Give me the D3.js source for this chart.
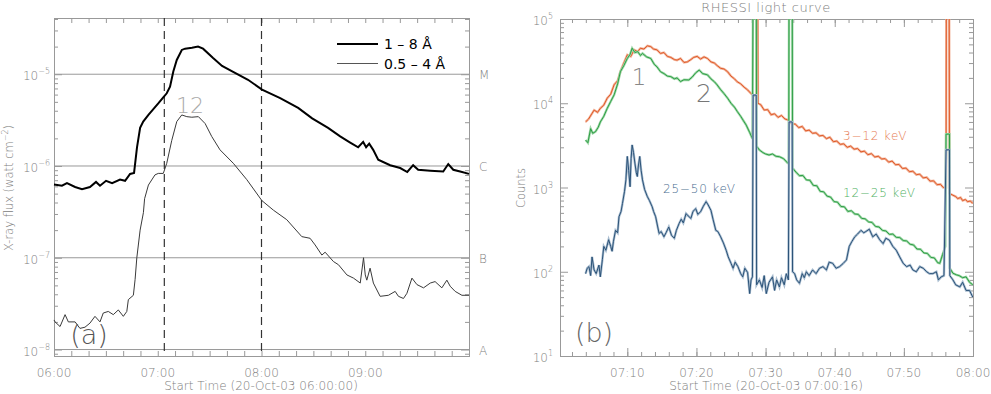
<!DOCTYPE html>
<html>
<head>
<meta charset="utf-8">
<script src="https://cdn.jsdelivr.net/npm/d3@7"></script>
<style>
  body { margin: 0; background: #fff; }
  text { font-family: "DejaVu Sans", sans-serif; }
  .thin { font-weight: 200; }
</style>
</head>
<body>
<div id="chart"></div>
<script>
// ---- GOES data (minutes after 06:00, flux in W m^-2) ----
var goesLongTime = [0, 4.6, 7.5, 12.2, 16.2, 20.8, 24.3, 26.6, 30.1, 33.6, 38.2, 41.1, 44.0, 46.3, 48.0, 49.8,
    51.6, 54.6, 60.3, 63.2, 65.2, 67.1, 69.0, 71.0, 73.9, 75.8, 79.8, 83.3, 86.2, 92.0, 97.2, 103.6, 112.2,
    120.3, 130.8, 141.2, 149.3, 158.5, 165.5, 171.3, 175.9, 178.8, 180.5, 182.3, 184.6, 187.5, 194.4, 200.2,
    204.3, 207.7, 210.6, 217.6, 225.1, 228.0, 230.9, 234.9, 240];
var goesLongFlux = [6.3e-7, 6.1e-7, 6.5e-7, 5.9e-7, 5.6e-7, 5.9e-7, 6.7e-7, 6.1e-7, 6.9e-7, 6.5e-7, 7.1e-7, 6.9e-7,
    8.2e-7, 8.4e-7, 1.6e-6, 2.6e-6, 3.05e-6, 3.6e-6, 4.8e-6, 5.6e-6, 6.2e-6, 7.3e-6, 1.07e-5, 1.43e-5, 1.84e-5,
    1.9e-5, 1.94e-5, 2.0e-5, 1.9e-5, 1.5e-5, 1.23e-5, 1.06e-5, 8.7e-6, 6.8e-6, 5.5e-6, 4.3e-6, 3.3e-6, 2.6e-6,
    2.1e-6, 1.8e-6, 1.6e-6, 1.83e-6, 1.6e-6, 1.75e-6, 1.5e-6, 1.17e-6, 1.02e-6, 9.5e-7, 8.6e-7, 1.02e-6, 9.1e-7,
    8.9e-7, 8.7e-7, 1.05e-6, 9.1e-7, 8.7e-7, 8.2e-7];

var goesShortTime = [0, 0.6, 3.5, 6.4, 8.3, 12.2, 15.0, 17.9, 20.8, 23.7, 26.6, 28.5, 31.4, 34.3, 37.2, 40.1, 42.1,
    43.0, 45.9, 46.9, 47.9, 49.8, 51.7, 52.4, 54.6, 58.4, 60.3, 63.2, 65.2, 68.1, 71.0, 73.9, 76.8, 79.7, 83.5,
    87.4, 91.2, 96.0, 103.7, 111.5, 120.2, 126.9, 134.6, 143.3, 148.1, 151.0, 154.9, 156.8, 161.6, 164.5, 169.4,
    173.2, 177.1, 179.0, 180.0, 180.9, 182.8, 184.7, 188.6, 193.4, 197.3, 199.2, 202.1, 204.1, 207.0, 209.9,
    213.7, 217.6, 220.4, 224.3, 227.2, 229.1, 232.0, 235.9, 240];
var goesShortFlux = [2.1e-8, 2.0e-8, 1.78e-8, 2.4e-8, 2.0e-8, 2.0e-8, 1.7e-8, 1.75e-8, 1.94e-8, 2.3e-8, 2.0e-8,
    2.5e-8, 2.6e-8, 2.4e-8, 2.7e-8, 2.3e-8, 2.6e-8, 3.5e-8, 3.9e-8, 5.8e-8, 1.0e-7, 2.0e-7, 3.1e-7, 4.4e-7,
    6.2e-7, 8.0e-7, 8.3e-7, 8.3e-7, 1.07e-6, 1.9e-6, 3.05e-6, 3.6e-6, 3.45e-6, 3.4e-6, 3.45e-6, 2.9e-6, 2.1e-6,
    1.5e-6, 1.07e-6, 7.1e-7, 4.2e-7, 3.3e-7, 2.6e-7, 1.7e-7, 1.63e-7, 1.38e-7, 1.07e-7, 1.15e-7, 9.1e-8, 8.4e-8,
    6.5e-8, 6.0e-8, 5.3e-8, 1.0e-7, 6.5e-8, 5.7e-8, 7.7e-8, 5.3e-8, 3.8e-8, 3.9e-8, 4.3e-8, 3.8e-8, 3.6e-8,
    4.1e-8, 6.0e-8, 5.1e-8, 4.7e-8, 5.3e-8, 5.5e-8, 4.7e-8, 5.7e-8, 4.9e-8, 4.3e-8, 3.9e-8, 3.9e-8];

var markTimes = [63.8, 120];               // dashed lines, minutes after 06:00
var goesClass = ["M", "C", "B", "A"];
var goesClassFlux = [1e-5, 1e-6, 1e-7, 1e-8];
var goesHourTicks = ["06:00", "07:00", "08:00", "09:00"];

// ---- RHESSI data (minutes after 07:00, counts) ----
var lowTime = [3.97, 4.4, 5.2, 5.7, 6.1, 6.6, 7.1, 7.6, 8.1, 8.6, 9.0, 9.5, 10.0, 10.5, 11.0, 11.5, 11.9, 12.4,
    12.9, 13.4, 13.8, 14.3, 14.8, 15.3, 15.8, 16.3, 16.8, 17.2, 17.7, 18.2, 18.7, 19.2, 19.6, 20.1, 20.6, 21.1,
    21.6, 22.1, 22.6, 23.0, 23.5, 24.0, 24.5, 25.0, 25.5, 25.9, 26.4, 26.9, 27.4, 27.9, 28.3, 28.7, 28.75, 28.85,
    28.9, 29.3, 29.8, 30.3, 30.8, 31.3, 31.8, 32.3, 32.8, 33.3, 33.8, 34.3, 34.8, 35.3, 35.8, 36.3, 36.8, 37.3,
    37.8, 38.3, 38.8, 39.3, 39.8, 40.3, 40.8, 41.3, 41.8, 42.3, 42.8, 43.3, 43.8, 44.3, 44.8, 45.3, 45.8, 46.3,
    46.8, 47.3, 47.8, 48.3, 48.8, 49.3, 49.8, 50.3, 50.8, 51.3, 51.8, 52.3, 52.8, 53.3, 53.8, 54.3, 54.8, 55.3,
    55.7, 56.1, 56.15, 56.55, 56.6, 57.1, 57.5, 57.8, 58.2, 58.5, 58.9, 59.2, 59.6, 59.97];
var lowCounts = [6000, 6500, 8300, 7800, 8700, 9500, 11500, 12800, 16600, 18500, 23700, 30000, 37500, 36000,
    43000, 41000, 45000, 44000, 48000, 47000, 44000, 43000, 39000, 40000, 36000, 35000, 33000, 32500, 34000,
    30500, 31000, 33000, 35000, 36000, 33500, 35500, 34000, 31000, 30000, 28000, 26000, 25500, 23700, 21000,
    19500, 18000, 17000, 15500, 14400, 13000, 12500, 12000, 3e5, 3e5, 10000, 9600, 8300, 8400, 7300, 7500, 6800,
    7150, 6500, 6300, 5700, 5650, 5150, 5300, 4700, 4800, 4400, 4450, 4100, 4150, 3800, 3950, 3500, 3550, 3250,
    3300, 3000, 3100, 2850, 2900, 2650, 2700, 2450, 2520, 2300, 2350, 2180, 2200, 2000, 2060, 1860, 1880, 1680,
    1700, 1540, 1560, 1420, 1440, 1300, 1320, 1190, 1200, 1080, 1090, 1000, 1000, 3e5, 3e5, 850, 810, 780, 740,
    760, 700, 720, 680, 690, 650];

var midTime = [3.97, 4.3, 4.7, 5.0, 5.4, 5.8, 6.1, 6.6, 7.1, 7.6, 8.1, 8.6, 9.0, 9.5, 10.0, 10.4, 10.7, 11.1,
    11.5, 11.9, 12.2, 12.8, 13.4, 13.9, 14.3, 14.8, 15.3, 15.8, 16.3, 16.8, 17.2, 17.7, 18.2, 18.9, 19.4, 19.9,
    20.4, 20.9, 21.6, 22.1, 22.6, 23.0, 23.5, 24.0, 24.5, 25.0, 25.5, 25.9, 26.4, 26.8, 27.2, 27.7, 28.1, 28.2,
    28.65, 28.7, 29.1, 29.6, 30.0, 30.5, 31.0, 31.5, 32.0, 32.6, 33.2, 33.35, 33.4, 33.85, 33.9, 34.4, 34.9, 35.4,
    35.9, 36.4, 36.9, 37.4, 37.9, 38.4, 38.9, 39.4, 39.9, 40.4, 40.9, 41.4, 41.9, 42.4, 42.9, 43.4, 43.9, 44.4,
    44.9, 45.4, 45.9, 46.4, 46.9, 47.4, 47.9, 48.4, 48.9, 49.4, 49.9, 50.4, 50.9, 51.4, 51.9, 52.4, 52.9, 53.4,
    53.9, 54.4, 54.9, 55.2, 55.6, 56.0, 56.1, 56.6, 56.65, 57.1, 57.6, 58.0, 58.5, 59.0, 59.5, 59.97];
var midCounts = [3660, 3400, 5000, 4400, 4600, 5200, 6000, 7000, 8700, 10500, 12600, 17000, 23700, 28000, 34000,
    38000, 45000, 40000, 41000, 37000, 39000, 35500, 34000, 29000, 27000, 23700, 22500, 21000, 20700, 19500,
    20000, 18100, 19000, 18900, 20500, 23000, 24800, 22500, 21700, 19500, 18000, 16500, 14500, 13000, 11500,
    10000, 9000, 8000, 7000, 6200, 5500, 4500, 3800, 4e5, 4e5, 3100, 2790, 2600, 2500, 2430, 2500, 2350, 2320,
    2200, 1950, 1950, 4e5, 4e5, 1700, 1520, 1380, 1390, 1230, 1220, 1060, 1050, 900, 890, 790, 770, 680, 670, 595,
    590, 520, 530, 485, 480, 430, 425, 390, 385, 345, 340, 310, 305, 278, 280, 256, 255, 235, 232, 212, 208, 186,
    185, 167, 165, 148, 146, 128, 126, 160, 200, 4300, 4300, 110, 96, 92, 90, 85, 87, 75, 70];

var highTime = [3.97, 4.2, 4.45, 4.7, 4.9, 5.2, 5.5, 5.9, 6.1, 6.4, 6.6, 6.9, 7.3, 7.6, 7.8, 8.0, 8.3, 8.6, 8.8,
    9.1, 9.3, 9.6, 9.8, 10.0, 10.2, 10.4, 10.55, 10.7, 10.9, 11.1, 11.3, 11.45, 11.6, 11.8, 12.0, 12.2, 12.5,
    12.9, 13.2, 13.6, 13.8, 14.1, 14.4, 14.6, 14.9, 15.3, 15.6, 16.0, 16.4, 16.8, 17.1, 17.5, 17.8, 18.1, 18.5,
    18.8, 19.2, 19.5, 19.9, 20.2, 20.6, 21.0, 21.4, 21.7, 22.1, 22.4, 22.8, 23.1, 23.5, 23.9, 24.3, 24.6, 25.0,
    25.3, 25.6, 26.0, 26.4, 26.7, 27.0, 27.4, 27.7, 27.9, 28.1, 28.2, 28.65, 28.7, 29.1, 29.5, 29.8, 30.1, 30.5,
    31.0, 31.3, 31.6, 32.0, 32.3, 32.7, 33.0, 33.3, 33.4, 33.85, 33.9, 34.2, 34.5, 34.9, 35.3, 35.6, 35.9, 36.3,
    36.8, 37.3, 37.8, 38.3, 38.8, 39.2, 39.7, 40.2, 40.7, 41.2, 41.7, 42.1, 42.5, 42.9, 43.3, 43.8, 44.2, 44.5,
    45.0, 45.5, 46.0, 46.5, 47.0, 47.4, 47.9, 48.4, 48.9, 49.4, 49.9, 50.4, 50.9, 51.3, 51.8, 52.3, 52.8, 53.3,
    53.7, 54.2, 54.7, 55.0, 55.4, 55.8, 56.1, 56.6, 56.65, 57.1, 57.5, 58.1, 58.5, 59.0, 59.5, 59.97];
var highCounts = [95, 110, 115, 90, 150, 105, 95, 120, 87, 140, 200, 180, 240, 200, 175, 230, 310, 290, 450, 520,
    645, 900, 1230, 2340, 1600, 1020, 2200, 3200, 2600, 1950, 1500, 1350, 1800, 2340, 1600, 1230, 950, 780, 700,
    590, 520, 450, 340, 285, 300, 260, 290, 340, 270, 250, 310, 375, 420, 380, 490, 460, 430, 520, 560, 480, 515,
    600, 680, 620, 535, 420, 310, 300, 260, 220, 180, 150, 126, 110, 130, 115, 95, 87, 110, 98, 55, 80, 87, 12500,
    12500, 70, 80, 65, 90, 55, 75, 87, 60, 80, 66, 85, 70, 95, 80, 6000, 6000, 100, 95, 80, 73, 95, 85, 100, 90,
    105, 95, 110, 115, 105, 130, 126, 110, 115, 125, 138, 200, 230, 260, 280, 310, 290, 300, 320, 260, 280, 240,
    216, 250, 237, 200, 180, 150, 126, 115, 120, 105, 100, 115, 110, 100, 95, 95, 100, 80, 87, 90, 2800, 2800, 90,
    80, 70, 66, 75, 60, 60, 50];

var rhessiTickLabels = ["07:10", "07:20", "07:30", "07:40", "07:50", "08:00"];

var W = 991, H = 394;
var gray = "#808080";

var svg = d3.select("#chart").append("svg")
    .attr("width", W)
    .attr("height", H);

function atMin(base, m) { return new Date(base.getTime() + m * 60000); }
var day = new Date(2003, 9, 20, 0, 0, 0);
var base6 = atMin(day, 360);
var base7 = atMin(day, 420);

function zip(ts, vs, base) {
    return ts.map(function(t, i) { return {t: atMin(base, t), v: vs[i]}; });
}

// puts "10" with a superscript exponent
function powLabel(sel, exp) {
    sel.append("tspan").text("10");
    sel.append("tspan").attr("font-size", 8).attr("dy", -6).text(exp);
}

function minorLogs(lo, hi) {
    var out = [];
    for (var e = lo; e < hi; e++) {
        for (var k = 2; k < 10; k++) out.push(k * Math.pow(10, e));
    }
    return out;
}

// ================= left panel (GOES) =================
var xL = d3.scaleTime().domain([base6, atMin(base6, 240)]).range([54, 469]);
var yL = d3.scaleLog().domain([8.5e-9, 4.1e-5]).range([356, 18]);

var gl = svg.append("g");

// decade grid lines
gl.selectAll("line.grid").data(goesClassFlux).enter().append("line")
    .attr("x1", 54).attr("x2", 469)
    .attr("y1", function(d) { return yL(d); })
    .attr("y2", function(d) { return yL(d); })
    .attr("stroke", "#999").attr("stroke-width", 1);

var tenMin = d3.range(0, 241, 10).map(function(m) { return atMin(base6, m); });
var minorL = minorLogs(-9, -4).filter(function(v) { return v > 8.5e-9 && v < 4.1e-5; });
var axesL = [];
axesL.push(gl.append("g").attr("transform", "translate(0,356)")
    .call(d3.axisBottom(xL).tickValues(tenMin).tickSize(-5).tickFormat("")));
axesL.push(gl.append("g").attr("transform", "translate(0,18)")
    .call(d3.axisTop(xL).tickValues(tenMin).tickSize(-5).tickFormat("")));
axesL.push(gl.append("g").attr("transform", "translate(54,0)")
    .call(d3.axisLeft(yL).tickValues(minorL).tickSize(-4).tickFormat("")));
axesL.push(gl.append("g").attr("transform", "translate(54,0)")
    .call(d3.axisLeft(yL).tickValues(goesClassFlux).tickSize(-8).tickFormat("")));
axesL.push(gl.append("g").attr("transform", "translate(469,0)")
    .call(d3.axisRight(yL).tickValues(minorL).tickSize(-4).tickFormat("")));
axesL.push(gl.append("g").attr("transform", "translate(469,0)")
    .call(d3.axisRight(yL).tickValues(goesClassFlux).tickSize(-8).tickFormat("")));
axesL.forEach(function(a) {
    a.selectAll("line").attr("stroke", "#999");
    a.select(".domain").attr("stroke", "#999");
});

// y tick labels
goesClassFlux.forEach(function(f) {
    var t = gl.append("text").attr("class", "thin").attr("x", 50).attr("y", yL(f) + 6)
        .attr("text-anchor", "end").attr("font-size", 12).attr("fill", gray);
    powLabel(t, "\u2212" + (-Math.log10(f)).toFixed(0));
});
goesClass.forEach(function(c, i) {
    gl.append("text").attr("class", "thin").attr("x", 479).attr("y", yL(goesClassFlux[i]) + 5)
        .attr("font-size", 12).attr("fill", gray).text(c);
});
goesHourTicks.forEach(function(s, i) {
    gl.append("text").attr("class", "thin").attr("x", xL(atMin(base6, 60 * i))).attr("y", 377)
        .attr("text-anchor", "middle").attr("font-size", 12).attr("fill", gray).text(s);
});
gl.append("text").attr("class", "thin").attr("x", 261).attr("y", 390).attr("text-anchor", "middle")
    .attr("font-size", 12).attr("fill", gray).text("Start Time (20-Oct-03 06:00:00)");
var ylab = gl.append("text").attr("class", "thin").attr("transform", "translate(13,188) rotate(-90)")
    .attr("text-anchor", "middle").attr("font-size", 11.5).attr("fill", gray);
ylab.append("tspan").text("X-ray flux (watt cm");
ylab.append("tspan").attr("font-size", 8).attr("dy", -5).text("\u22122");
ylab.append("tspan").attr("dy", 5).text(")");

// dashed marker lines
gl.selectAll("line.mark").data(markTimes).enter().append("line")
    .attr("x1", function(m) { return xL(atMin(base6, m)); })
    .attr("x2", function(m) { return xL(atMin(base6, m)); })
    .attr("y1", 18).attr("y2", 356)
    .attr("stroke", "#333").attr("stroke-width", 1.2).attr("stroke-dasharray", "8,5");

var lineL = d3.line()
    .x(function(d) { return xL(d.t); })
    .y(function(d) { return yL(d.v); });

gl.append("path").attr("d", lineL(zip(goesShortTime, goesShortFlux, base6)))
    .attr("fill", "none").attr("stroke", "#3a3a3a").attr("stroke-width", 1);
gl.append("path").attr("d", lineL(zip(goesLongTime, goesLongFlux, base6)))
    .attr("fill", "none").attr("stroke", "#000").attr("stroke-width", 2);

// legend
gl.append("line").attr("x1", 337).attr("x2", 378).attr("y1", 44).attr("y2", 44)
    .attr("stroke", "#000").attr("stroke-width", 2);
gl.append("line").attr("x1", 337).attr("x2", 378).attr("y1", 63.5).attr("y2", 63.5)
    .attr("stroke", "#555").attr("stroke-width", 1);
gl.append("text").attr("x", 384).attr("y", 49).attr("font-size", 14).attr("fill", "#000").text("1 \u2013 8 \u00c5");
gl.append("text").attr("x", 384).attr("y", 69).attr("font-size", 14).attr("fill", "#000").text("0.5 \u2013 4 \u00c5");

gl.append("text").attr("class", "thin").attr("x", 190).attr("y", 113).attr("text-anchor", "middle")
    .attr("font-size", 22).attr("fill", "#aaa").text("12");
gl.append("text").attr("class", "thin").attr("x", 89).attr("y", 344).attr("text-anchor", "middle")
    .attr("font-size", 27).attr("fill", "#555").text("(a)");

// ================= right panel (RHESSI) =================
var t0R = new Date(base7.getTime() + 16000);
var xR = d3.scaleTime().domain([t0R, atMin(base7, 60)]).range([560, 973]);
var yR = d3.scaleLog().domain([10, 1e5]).range([356, 19]);

var gr = svg.append("g");
svg.append("clipPath").attr("id", "clipR").append("rect")
    .attr("x", 560).attr("y", 19).attr("width", 413).attr("height", 337);

var twoMin = d3.range(2, 61, 2).map(function(m) { return atMin(base7, m); });
var tens = rhessiTickLabels.map(function(s, i) { return atMin(base7, 10 * (i + 1)); });
var decR = [10, 100, 1000, 10000, 100000];
var axesR = [];
axesR.push(gr.append("g").attr("transform", "translate(0,356)")
    .call(d3.axisBottom(xR).tickValues(twoMin).tickSize(-4).tickFormat("")));
axesR.push(gr.append("g").attr("transform", "translate(0,356)")
    .call(d3.axisBottom(xR).tickValues(tens).tickSize(-8).tickFormat("")));
axesR.push(gr.append("g").attr("transform", "translate(0,19)")
    .call(d3.axisTop(xR).tickValues(twoMin).tickSize(-4).tickFormat("")));
axesR.push(gr.append("g").attr("transform", "translate(0,19)")
    .call(d3.axisTop(xR).tickValues(tens).tickSize(-8).tickFormat("")));
axesR.push(gr.append("g").attr("transform", "translate(560,0)")
    .call(d3.axisLeft(yR).tickValues(minorLogs(1, 5)).tickSize(-4).tickFormat("")));
axesR.push(gr.append("g").attr("transform", "translate(560,0)")
    .call(d3.axisLeft(yR).tickValues(decR).tickSize(-8).tickFormat("")));
axesR.push(gr.append("g").attr("transform", "translate(973,0)")
    .call(d3.axisRight(yR).tickValues(minorLogs(1, 5)).tickSize(-4).tickFormat("")));
axesR.push(gr.append("g").attr("transform", "translate(973,0)")
    .call(d3.axisRight(yR).tickValues(decR).tickSize(-8).tickFormat("")));
axesR.forEach(function(a) {
    a.selectAll("line").attr("stroke", "#999");
    a.select(".domain").attr("stroke", "#999");
});

decR.forEach(function(c) {
    var t = gr.append("text").attr("class", "thin").attr("x", 553).attr("y", yR(c) + 6)
        .attr("text-anchor", "end").attr("font-size", 12).attr("fill", gray);
    powLabel(t, String(Math.round(Math.log10(c))));
});
rhessiTickLabels.forEach(function(s, i) {
    gr.append("text").attr("class", "thin").attr("x", xR(tens[i])).attr("y", 377)
        .attr("text-anchor", "middle").attr("font-size", 12).attr("fill", gray).text(s);
});
gr.append("text").attr("class", "thin").attr("x", 766).attr("y", 390).attr("text-anchor", "middle")
    .attr("font-size", 12).attr("fill", gray).text("Start Time (20-Oct-03 07:00:16)");
gr.append("text").attr("class", "thin").attr("transform", "translate(525,188) rotate(-90)")
    .attr("text-anchor", "middle").attr("font-size", 11.5).attr("fill", gray).text("Counts");
gr.append("text").attr("class", "thin").attr("x", 766).attr("y", 12).attr("text-anchor", "middle")
    .attr("font-size", 13).attr("letter-spacing", 0.5).attr("fill", gray).text("RHESSI light curve");

var lineR = d3.line()
    .x(function(d) { return xR(d.t); })
    .y(function(d) { return yR(d.v); });

var seriesR = [
    {time: lowTime, counts: lowCounts, color: "#e05a28", pale: "#f2b59c"},
    {time: midTime, counts: midCounts, color: "#2e9e45", pale: "#9fd7a8"},
    {time: highTime, counts: highCounts, color: "#2c5378", pale: "#a9bdd0"}
];
var plotR = gr.append("g").attr("clip-path", "url(#clipR)");
seriesR.forEach(function(s) {
    var d = lineR(zip(s.time, s.counts, base7));
    plotR.append("path").attr("d", d).attr("fill", "none")
        .attr("stroke", s.pale).attr("stroke-width", 2.4);
    plotR.append("path").attr("d", d).attr("fill", "none")
        .attr("stroke", s.color).attr("stroke-width", 1);
});

gr.append("text").attr("class", "thin").attr("x", 843).attr("y", 140).attr("font-size", 12)
    .attr("letter-spacing", 0.8).attr("fill", "#e67a52").text("3\u221212 keV");
gr.append("text").attr("class", "thin").attr("x", 843).attr("y", 197).attr("font-size", 12)
    .attr("letter-spacing", 0.8).attr("fill", "#4fb062").text("12\u221225 keV");
gr.append("text").attr("class", "thin").attr("x", 663).attr("y", 193).attr("font-size", 12)
    .attr("letter-spacing", 0.8).attr("fill", "#4a6d90").text("25\u221250 keV");
gr.append("text").attr("class", "thin").attr("x", 639).attr("y", 85).attr("text-anchor", "middle")
    .attr("font-size", 23).attr("fill", "#888").text("1");
gr.append("text").attr("class", "thin").attr("x", 704).attr("y", 102).attr("text-anchor", "middle")
    .attr("font-size", 25).attr("fill", "#777").text("2");
gr.append("text").attr("class", "thin").attr("x", 594).attr("y", 342).attr("text-anchor", "middle")
    .attr("font-size", 27).attr("fill", "#666").text("(b)");
</script>
</body>
</html>
